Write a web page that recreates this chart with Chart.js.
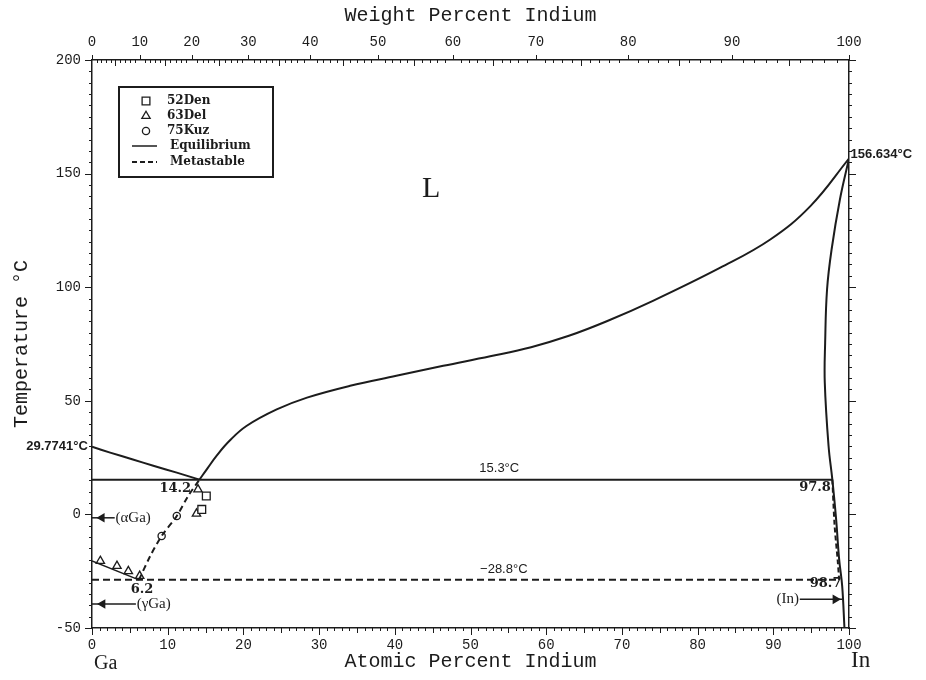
<!DOCTYPE html>
<html>
<head>
<meta charset="utf-8">
<title>Ga-In phase diagram</title>
<script src="https://cdn.jsdelivr.net/npm/chart.js@4.4.1/dist/chart.umd.min.js"></script>
<style>
  html, body { margin: 0; padding: 0; background: #fff; }
  #wrap { width: 926px; height: 680px; position: relative; }
</style>
</head>
<body>
<div id="wrap"><canvas id="chart"></canvas></div>
<script>
// x = atomic percent In, y = temperature in °C

// stable liquidus, Ga side
const gaLiquidusX = [0, 2.4, 5.4, 8.1, 11.2, 14.2];
const gaLiquidusT = [29.7741, 27.2, 24.2, 21.4, 18.4, 15.3];

// stable liquidus, In side
const inLiquidusX = [14.2, 15.3, 16.5, 18.2, 20.4, 24.4, 28.4, 34.1, 40.2, 46.4, 52.6, 58.0, 63.0, 68.0, 74.1, 83.0, 89.6, 94.9, 100];
const inLiquidusT = [15.3, 20.5, 26.0, 32.5, 38.9, 46.2, 51.4, 56.6, 61.0, 65.4, 69.6, 73.6, 78.6, 85.0, 94.0, 108.6, 121.0, 135.7, 156.634];

// (In) solidus + solvus
const inSolidusX = [100, 98.8, 97.7, 97.1, 96.85, 96.8, 97.3, 97.8, 98.3, 98.7, 99.1, 99.4];
const inSolidusT = [156.634, 138.6, 116.6, 99.0, 75.7, 58.1, 30.1, 15.3, -2.2, -19.8, -31.6, -50];

// eutectic lines
const eutecticX = [0, 97.8];
const eutecticT = [15.3, 15.3];
const metaEutecticX = [0, 98.7];
const metaEutecticT = [-28.8, -28.8];

// metastable liquidus / solvus
const metaLiquidusX = [6.2, 7.7, 9.2, 11.2, 12.7, 14.2];
const metaLiquidusT = [-28.8, -18.3, -9.5, -0.7, 8.1, 15.3];
const gammaLiquidusX = [0, 6.2];
const gammaLiquidusT = [-20.5, -28.8];
const metaSolvusX = [97.8, 98.1, 98.5, 98.7];
const metaSolvusT = [15.3, -5, -20, -28.8];

// experimental points
const denX = [15.1, 14.5];
const denT = [8.1, 2.2];
const delX = [14.0, 13.8, 1.1, 3.3, 4.8, 6.3];
const delT = [11.0, 0.3, -20.5, -22.7, -25.0, -27.1];
const kuzX = [9.2, 11.2];
const kuzT = [-9.5, -0.7];

// phase arrows (tail, head, axis end)
const alphaArrowX = [3.0, 1.3, 0];
const alphaArrowT = [-1.5, -1.5, -1.5];
const gammaArrowX = [5.8, 1.4, 0];
const gammaArrowT = [-39.4, -39.4, -39.4];
const inArrowX = [93.5, 98.2, 99.1];
const inArrowT = [-37.4, -37.4, -37.4];

const wtTicks = [0, 10, 20, 30, 40, 50, 60, 70, 80, 90, 100];
const tempTicks = [-50, 0, 50, 100, 150, 200];
const legendLabels = ['52Den', '63Del', '75Kuz', 'Equilibrium', 'Metastable'];

const INK = '#1c1c1c';
const GA_MASS = 69.723, IN_MASS = 114.818;

function wtToAt(w) {
    const a = w / IN_MASS, b = (100 - w) / GA_MASS;
    return 100 * a / (a + b);
}

function pts(xs, ys) {
    return xs.map((x, i) => ({ x: x, y: ys[i] }));
}

function curve(label, xs, ys, opts) {
    return Object.assign({
        label: label,
        data: pts(xs, ys),
        showLine: true,
        borderColor: INK,
        borderWidth: 2,
        pointRadius: 0,
        fill: false,
        tension: 0
    }, opts || {});
}

function markers(label, xs, ys, style, r) {
    return {
        label: label,
        data: pts(xs, ys),
        showLine: false,
        pointStyle: style,
        pointRadius: r,
        backgroundColor: '#fff',
        borderColor: INK,
        borderWidth: 1.3
    };
}

function arrow(label, xs, ys, rot) {
    return curve(label, xs, ys, {
        borderWidth: 1.5,
        pointStyle: 'triangle',
        pointRadius: [0, 4, 0],
        pointRotation: rot,
        pointBackgroundColor: INK,
        pointBorderColor: INK
    });
}

// tick marks of all four sides
const tickMarks = {
    id: 'tickMarks',
    afterDraw(chart) {
        const ctx = chart.ctx;
        const { x, x2, y } = chart.scales;
        const area = chart.chartArea;
        ctx.save();
        ctx.strokeStyle = INK;
        ctx.lineWidth = 1;
        ctx.beginPath();
        for (let v = 0; v <= 100; v++) {
            const px = Math.round(x.getPixelForValue(v)) + 0.5;
            const len = v % 10 === 0 ? 7 : v % 5 === 0 ? 5 : 3;
            ctx.moveTo(px, area.bottom);
            ctx.lineTo(px, area.bottom + len);
        }
        for (let w = 0; w <= 100; w++) {
            const px = Math.round(x2.getPixelForValue(wtToAt(w))) + 0.5;
            if (w % 10 === 0) {
                ctx.moveTo(px, area.top);
                ctx.lineTo(px, area.top - 5);
            } else if (w % 5 === 0) {
                ctx.moveTo(px, area.top);
                ctx.lineTo(px, area.top + 6);
            } else {
                ctx.moveTo(px, area.top - 1);
                ctx.lineTo(px, area.top + 3);
            }
        }
        for (let t = -50; t <= 200; t += 5) {
            const py = Math.round(y.getPixelForValue(t)) + 0.5;
            const len = t % 50 === 0 ? 7 : 3;
            ctx.moveTo(area.left, py);
            ctx.lineTo(area.left - len, py);
            ctx.moveTo(area.right, py);
            ctx.lineTo(area.right + len, py);
        }
        ctx.stroke();
        ctx.restore();
    }
};

// text labels and legend box
const notes = {
    id: 'notes',
    afterDatasetsDraw(chart) {
        const ctx = chart.ctx;
        const sx = chart.scales.x, sy = chart.scales.y;
        const area = chart.chartArea;
        function text(str, ax, t, font, align, base) {
            ctx.font = font;
            ctx.textAlign = align || 'center';
            ctx.textBaseline = base || 'middle';
            ctx.fillText(str, sx.getPixelForValue(ax), sy.getPixelForValue(t));
        }
        ctx.save();
        ctx.fillStyle = INK;
        const bold = 'bold 13px "Liberation Sans"';
        const num = 'bold 13px "DejaVu Serif"';
        const phase = '15px "Liberation Serif"';

        text('29.7741°C', -0.55, 29.7741, bold, 'right');
        text('156.634°C', 100.2, 158.5, bold, 'left');
        text('L', 44.8, 143, '30px "Liberation Serif"');
        text('15.3°C', 53.8, 17.2, '13px "Liberation Sans"', 'center', 'bottom');
        text('−28.8°C', 54.4, -26.9, '13px "Liberation Sans"', 'center', 'bottom');
        text('14.2', 13.1, 11.5, num, 'right');
        text('6.2', 6.6, -33, num, 'center');
        text('97.8', 97.6, 12, num, 'right');
        text('98.7', 99.0, -30.5, num, 'right');
        text('(αGa)', 3.1, -1.5, phase, 'left');
        text('(γGa)', 5.9, -39.4, phase, 'left');
        text('(In)', 93.4, -37.4, phase, 'right');

        // element names under the axis
        ctx.font = '20px "Liberation Serif"';
        ctx.textAlign = 'left';
        ctx.textBaseline = 'middle';
        ctx.fillText('Ga', area.left + 2, 664);
        ctx.font = '23px "Liberation Serif"';
        ctx.fillText('In', area.right + 2, 661);

        // legend
        const bx = 119, by = 87, bw = 154, bh = 90;
        ctx.lineWidth = 2;
        ctx.strokeStyle = INK;
        ctx.strokeRect(bx, by, bw, bh);
        const rows = [101, 116, 131, 146, 162];
        const styles = [['rect', 5.5], ['triangle', 4.8], ['circle', 3.6]];
        ctx.lineWidth = 1.3;
        ctx.fillStyle = '#fff';
        for (let i = 0; i < 3; i++) {
            Chart.helpers.drawPoint(ctx, {
                pointStyle: styles[i][0], radius: styles[i][1], borderWidth: 1.3, rotation: 0
            }, 146, rows[i]);
        }
        ctx.fillStyle = INK;
        ctx.lineWidth = 1.5;
        ctx.beginPath();
        ctx.moveTo(132, rows[3]);
        ctx.lineTo(157, rows[3]);
        ctx.stroke();
        ctx.setLineDash([5, 3]);
        ctx.lineWidth = 2;
        ctx.beginPath();
        ctx.moveTo(132, rows[4]);
        ctx.lineTo(157, rows[4]);
        ctx.stroke();
        ctx.setLineDash([]);
        ctx.font = 'bold 12px "DejaVu Serif"';
        ctx.textAlign = 'left';
        ctx.textBaseline = 'middle';
        legendLabels.forEach((lab, i) => {
            ctx.fillText(lab, i < 3 ? 167 : 170, rows[i]);
        });
        ctx.restore();
    }
};

const tickFont = { family: 'Liberation Mono', size: 14 };
const titleFont = { family: 'Liberation Mono', size: 20 };

new Chart(document.getElementById('chart'), {
    type: 'scatter',
    data: {
        datasets: [
            curve('Ga liquidus', gaLiquidusX, gaLiquidusT, { tension: 0.2 }),
            curve('In liquidus', inLiquidusX, inLiquidusT, { tension: 0.4 }),
            curve('(In) solidus', inSolidusX, inSolidusT, { tension: 0.4 }),
            curve('Eutectic', eutecticX, eutecticT),
            curve('Metastable eutectic', metaEutecticX, metaEutecticT, { borderDash: [7, 4] }),
            curve('Metastable liquidus', metaLiquidusX, metaLiquidusT, { borderDash: [6, 4], tension: 0.3 }),
            curve('gammaGa liquidus', gammaLiquidusX, gammaLiquidusT, { borderWidth: 1.5 }),
            curve('Metastable solvus', metaSolvusX, metaSolvusT, { borderDash: [5, 3], tension: 0.3 }),
            arrow('alphaGa', alphaArrowX, alphaArrowT, 270),
            arrow('gammaGa', gammaArrowX, gammaArrowT, 270),
            arrow('In', inArrowX, inArrowT, 90),
            markers('52Den', denX, denT, 'rect', 5.5),
            markers('63Del', delX, delT, 'triangle', 4.8),
            markers('75Kuz', kuzX, kuzT, 'circle', 3.6)
        ]
    },
    options: {
        responsive: true,
        maintainAspectRatio: false,
        animation: false,
        layout: { padding: 0 },
        plugins: {
            legend: { display: false },
            tooltip: { enabled: false }
        },
        scales: {
            x: {
                type: 'linear', position: 'bottom', min: 0, max: 100,
                ticks: { stepSize: 10, padding: 9, color: INK, font: tickFont, maxRotation: 0 },
                grid: { display: false, drawTicks: false },
                border: { display: true, color: INK, width: 1.5 },
                title: { display: true, text: 'Atomic Percent Indium', color: INK, font: titleFont, padding: { top: 0, bottom: 6 } },
                afterFit: s => { s.height = 52; }
            },
            x2: {
                type: 'linear', position: 'top', min: 0, max: 100,
                afterBuildTicks: s => { s.ticks = wtTicks.map(w => ({ value: wtToAt(w) })); },
                ticks: { padding: 9, color: INK, font: tickFont, maxRotation: 0, autoSkip: false, callback: (v, i) => String(wtTicks[i]) },
                grid: { display: false, drawTicks: false },
                border: { display: true, color: INK, width: 1.5 },
                title: { display: true, text: 'Weight Percent Indium', color: INK, font: titleFont, padding: { top: 4, bottom: 0 } },
                afterFit: s => { s.height = 60; }
            },
            y: {
                type: 'linear', position: 'left', min: -50, max: 200,
                afterBuildTicks: s => { s.ticks = tempTicks.map(t => ({ value: t })); },
                ticks: { padding: 11, color: INK, font: tickFont },
                grid: { display: false, drawTicks: false },
                border: { display: true, color: INK, width: 1.5 },
                title: { display: true, text: 'Temperature °C', color: INK, font: titleFont, padding: { top: 10, bottom: 0 } },
                afterFit: s => { s.width = 92; }
            },
            y2: {
                type: 'linear', position: 'right', min: -50, max: 200,
                ticks: { display: false },
                grid: { display: false, drawTicks: false },
                border: { display: true, color: INK, width: 1.5 },
                afterFit: s => { s.width = 77; }
            }
        }
    },
    plugins: [tickMarks, notes]
});
</script>
</body>
</html>
